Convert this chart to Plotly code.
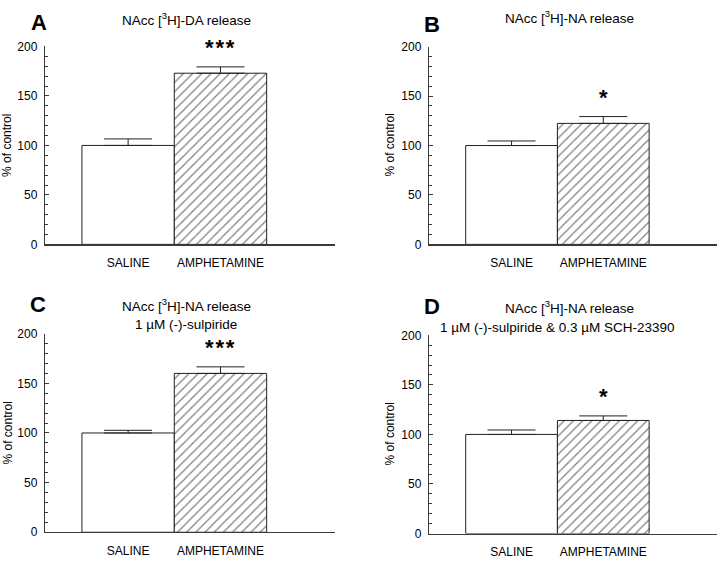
import plotly.graph_objects as go

# ---------------- data ----------------
categories = ["SALINE", "AMPHETAMINE"]
panel_letters = ["A", "B", "C", "D"]
titles_line1 = [
    "NAcc [<sup>3</sup>H]-DA release",
    "NAcc [<sup>3</sup>H]-NA release",
    "NAcc [<sup>3</sup>H]-NA release",
    "NAcc [<sup>3</sup>H]-NA release",
]
titles_line2 = ["", "", "1 µM (-)-sulpiride", "1 µM (-)-sulpiride &amp; 0.3 µM SCH-23390"]
saline_mean = [100, 100, 100, 100]
saline_sem = [6.6, 4.6, 2.7, 4.5]
amph_mean = [173, 122.4, 160, 114.1]
amph_sem = [6.4, 6.9, 6.6, 4.6]
significance = ["***", "*", "***", "*"]
y_ticks = [0, 50, 100, 150, 200]
y_axis_label = "% of control"

# ---------------- layout geometry (pixels) ----------------
W, H = 720, 565
left_px = [45, 429, 45, 429]
right_px = [335, 717, 335, 717]
top_px = [40.5, 40.7, 335, 336.7]
bottom_px = [243.4, 243.4, 538.6, 539.9]
letter_pos = [(38.5, 15.5), (431.7, 17.5), (37.5, 305.5), (431.7, 307.5)]
title1_pos = [(186.6, 12.5), (569.7, 10), (186.3, 306), (569.7, 307.5)]
title2_pos = [None, None, (186.3, 326), (557, 328.5)]
ylabel_x = [7.5, 390, 7.5, 390]

FONT = "Liberation Sans, Arial, sans-serif"
AXC = "#3a3a3a"


def px(x):
    return x / W


def py(y):
    return 1 - y / H


fig = go.Figure()
annotations = []

for i in range(4):
    n = "" if i == 0 else str(i + 1)
    xa, ya = "x" + n, "y" + n
    fig.add_trace(
        go.Bar(
            x=[0, 1],
            y=[saline_mean[i], amph_mean[i]],
            width=[1, 1],
            xaxis=xa,
            yaxis=ya,
            marker=dict(
                color="white",
                line=dict(color="#222222", width=1),
                pattern=dict(
                    shape=["", "/"],
                    fillmode="overlay",
                    fgcolor="black",
                    bgcolor="white",
                    size=6.5,
                    solidity=0.2,
                ),
            ),
            error_y=dict(
                type="data",
                symmetric=False,
                array=[saline_sem[i], amph_sem[i]],
                arrayminus=[0, 0],
                color="#222222",
                thickness=1,
                width=24,
            ),
            showlegend=False,
            hoverinfo="skip",
        )
    )
    xd = [px(left_px[i]), px(right_px[i])]
    yd = [py(bottom_px[i]), py(top_px[i])]
    fig.layout["xaxis" + n] = dict(
        domain=xd,
        anchor=ya,
        range=[-0.9, 2.24],
        tickvals=[0, 1],
        ticktext=categories,
        ticks="",
        showline=True,
        linecolor=AXC,
        linewidth=1.2,
        showgrid=False,
        zeroline=False,
        tickfont=dict(family=FONT, size=12, color="black"),
        ticklabelstandoff=7,
        fixedrange=True,
    )
    fig.layout["yaxis" + n] = dict(
        domain=yd,
        anchor=xa,
        range=[0, 200],
        tickvals=y_ticks,
        ticks="inside",
        ticklen=4,
        tickcolor=AXC,
        tickwidth=1,
        minor=dict(dtick=10, ticks="inside", ticklen=2.5, tickcolor=AXC, tickwidth=1, showgrid=False),
        showline=True,
        linecolor=AXC,
        linewidth=1.2,
        showgrid=False,
        zeroline=False,
        tickfont=dict(family=FONT, size=12, color="black"),
        ticklabelstandoff=4,
        fixedrange=True,
    )

    # panel letter
    lx, ly = letter_pos[i]
    annotations.append(dict(
        text="<b>" + panel_letters[i] + "</b>", x=px(lx), y=py(ly), xref="paper", yref="paper",
        xanchor="center", yanchor="middle", showarrow=False,
        font=dict(family=FONT, size=22, color="black"),
    ))
    # titles
    tx, ty = title1_pos[i]
    annotations.append(dict(
        text=titles_line1[i], x=px(tx), y=py(ty), xref="paper", yref="paper",
        xanchor="center", yanchor="middle", showarrow=False,
        font=dict(family=FONT, size=13.5, color="black"),
    ))
    if titles_line2[i]:
        tx2, ty2 = title2_pos[i]
        annotations.append(dict(
            text=titles_line2[i], x=px(tx2), y=py(ty2), xref="paper", yref="paper",
            xanchor="center", yanchor="middle", showarrow=False,
            font=dict(family=FONT, size=13.5, color="black"),
        ))
    # y label
    annotations.append(dict(
        text=y_axis_label, x=px(ylabel_x[i]), y=py((top_px[i] + bottom_px[i]) / 2),
        xref="paper", yref="paper", textangle=-90,
        xanchor="center", yanchor="middle", showarrow=False,
        font=dict(family=FONT, size=12, color="black"),
    ))
    # significance stars above the amphetamine error bar
    annotations.append(dict(
        text="<b>" + "\u200a".join(significance[i]) + "</b>",
        x=1, y=amph_mean[i] + amph_sem[i], xref=xa, yref=ya,
        xanchor="center", yanchor="middle", yshift=19.5, showarrow=False,
        font=dict(family=FONT, size=22, color="black"),
    ))

fig.update_layout(
    width=W,
    height=H,
    autosize=False,
    margin=dict(l=0, r=0, t=0, b=0),
    paper_bgcolor="white",
    plot_bgcolor="white",
    bargap=0,
    annotations=annotations,
)

fig.write_html(
    "out.html",
    config={"displayModeBar": False, "staticPlot": True},
    post_script="document.body.style.margin='0';document.body.style.padding='0';",
)
